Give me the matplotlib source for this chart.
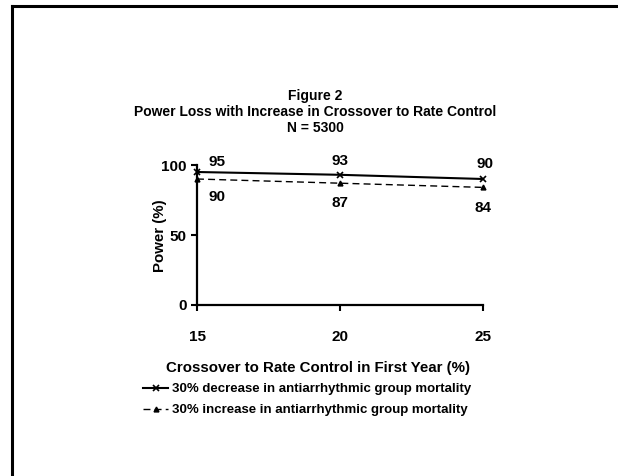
import matplotlib
matplotlib.use("Agg")
import matplotlib.pyplot as plt
from matplotlib.lines import Line2D

plt.rcParams["font.family"] = ["Liberation Sans", "DejaVu Sans"]
plt.rcParams["font.weight"] = "bold"

# data
crossover = [15, 20, 25]
power_decrease = [95, 93, 90]
power_increase = [90, 87, 84]
y_ticks = [0, 50, 100]
x_ticks = [15, 20, 25]
label_decrease = "30% decrease in antiarrhythmic group mortality"
label_increase = "30% increase in antiarrhythmic group mortality"

W, H = 618, 476
fig = plt.figure(figsize=(W / 100, H / 100), dpi=100)

# axes box in pixels
left, right, top, bottom = 197, 483, 165, 305
ax = fig.add_axes([left / W, 1 - bottom / H, (right - left) / W, (bottom - top) / H])

ax.plot(crossover, power_decrease, color="black", lw=1.5, marker="x", ms=4, mew=1.2,
        label=label_decrease)
ax.plot(crossover, power_increase, color="black", lw=1.0, ls=(0, (5, 3)), marker="^", ms=3.5,
        label=label_increase)

# value labels (offsets in pixels)
up_offsets = [(20, 10), (0, 14), (2, 15)]
down_offsets = [(20, -18), (0, -20), (0, -21)]
for x, y, off in zip(crossover, power_decrease, up_offsets):
    ax.annotate(str(y), (x, y), xytext=off, textcoords="offset pixels",
                ha="center", va="center", fontsize=11, fontweight="bold")
for x, y, off in zip(crossover, power_increase, down_offsets):
    ax.annotate(str(y), (x, y), xytext=off, textcoords="offset pixels",
                ha="center", va="center", fontsize=11, fontweight="bold")

ax.set_xlim(15, 25)
ax.set_ylim(0, 100)
ax.set_xticks(x_ticks)
ax.set_yticks(y_ticks)
ax.tick_params(axis="both", direction="out", length=4, width=1.5, labelsize=11)
ax.tick_params(axis="x", pad=14)
ax.spines["top"].set_visible(False)
ax.spines["right"].set_visible(False)
ax.spines["left"].set_linewidth(1.6)
ax.spines["bottom"].set_linewidth(1.6)
ax.patch.set_visible(False)
for ln in ax.lines:
    ln.set_clip_on(False)

fig.text(315 / W, 1 - 112 / H, "Figure 2\nPower Loss with Increase in Crossover to Rate Control\nN = 5300",
         ha="center", va="center", fontsize=10, fontweight="bold", linespacing=1.2)
fig.text(318 / W, 1 - 368 / H, "Crossover to Rate Control in First Year (%)",
         ha="center", va="center", fontsize=10.8, fontweight="bold")
fig.text(160 / W, 1 - 236 / H, "Power (%)", rotation=90,
         ha="center", va="center", fontsize=10.8, fontweight="bold")

fig.legend(loc="upper left", bbox_to_anchor=(143 / W, 1 - 383 / H), frameon=False,
           fontsize=9.5, handlelength=1.9, handletextpad=0.3, labelspacing=0.68,
           borderaxespad=0, borderpad=0)

# page border (top and left edges visible)
fig.add_artist(Line2D([12 / W, 12 / W], [0, 1 - 6 / H], color="black", lw=2.2,
                      transform=fig.transFigure))
fig.add_artist(Line2D([12 / W, 1], [1 - 6 / H, 1 - 6 / H], color="black", lw=2.2,
                      transform=fig.transFigure))

fig.savefig("out.png", dpi=100)
